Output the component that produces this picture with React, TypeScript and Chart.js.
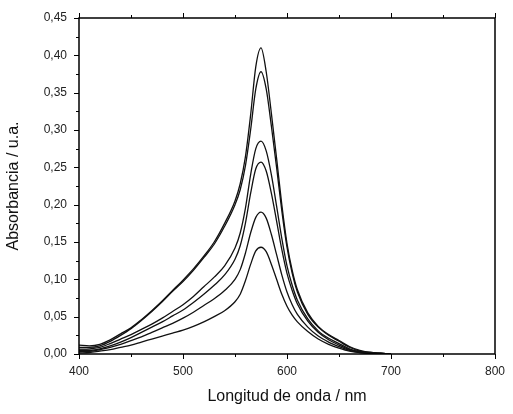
import React, { useEffect, useRef } from "react";
import { Chart, registerables } from "chart.js";

Chart.register(...registerables);

// Wavelength (nm)
const wavelengths = [400, 410, 420, 430, 440, 450, 460, 470, 480, 490, 500, 510, 520, 530, 540, 550, 555, 560, 565, 570, 575, 580, 585, 590, 595, 600, 605, 610, 620, 630, 640, 650, 660, 670, 680, 690, 700];

// Absorbance series (u.a.)
const seriesA = [0.012, 0.011, 0.013, 0.019, 0.027, 0.035, 0.046, 0.058, 0.071, 0.085, 0.099, 0.114, 0.131, 0.150, 0.175, 0.205, 0.228, 0.264, 0.320, 0.385, 0.410, 0.378, 0.322, 0.262, 0.200, 0.148, 0.112, 0.086, 0.055, 0.037, 0.026, 0.018, 0.010, 0.005, 0.002, 0.001, 0.0];
const seriesB = [0.009, 0.009, 0.011, 0.017, 0.025, 0.034, 0.045, 0.057, 0.070, 0.084, 0.097, 0.112, 0.129, 0.147, 0.171, 0.200, 0.220, 0.252, 0.300, 0.355, 0.378, 0.355, 0.305, 0.250, 0.192, 0.143, 0.108, 0.083, 0.053, 0.036, 0.025, 0.017, 0.009, 0.004, 0.002, 0.001, 0.0];
const seriesC = [0.0065, 0.007, 0.009, 0.014, 0.020, 0.026, 0.033, 0.040, 0.048, 0.057, 0.066, 0.077, 0.090, 0.103, 0.118, 0.142, 0.162, 0.195, 0.240, 0.275, 0.285, 0.272, 0.240, 0.198, 0.155, 0.118, 0.092, 0.072, 0.047, 0.031, 0.021, 0.014, 0.007, 0.003, 0.002, 0.001, 0.0];
const seriesD = [0.005, 0.005, 0.007, 0.011, 0.016, 0.022, 0.029, 0.036, 0.043, 0.051, 0.059, 0.069, 0.080, 0.092, 0.106, 0.127, 0.145, 0.175, 0.215, 0.248, 0.257, 0.245, 0.215, 0.178, 0.140, 0.108, 0.085, 0.067, 0.044, 0.029, 0.019, 0.012, 0.006, 0.003, 0.001, 0.0005, 0.0];
const seriesE = [0.003, 0.0035, 0.006, 0.009, 0.013, 0.018, 0.023, 0.029, 0.035, 0.041, 0.048, 0.056, 0.065, 0.074, 0.085, 0.100, 0.113, 0.135, 0.162, 0.183, 0.190, 0.182, 0.160, 0.133, 0.106, 0.083, 0.066, 0.053, 0.036, 0.024, 0.016, 0.010, 0.005, 0.002, 0.001, 0.0, 0.0];
const seriesF = [0.0015, 0.002, 0.004, 0.006, 0.009, 0.012, 0.016, 0.020, 0.024, 0.028, 0.032, 0.037, 0.043, 0.050, 0.058, 0.070, 0.080, 0.098, 0.120, 0.138, 0.143, 0.137, 0.120, 0.100, 0.080, 0.064, 0.052, 0.043, 0.030, 0.020, 0.013, 0.008, 0.004, 0.002, 0.001, 0.0, 0.0];

// Tick labels
const xTicks = [400, 500, 600, 700, 800];
const yTicks = [0, 0.05, 0.1, 0.15, 0.2, 0.25, 0.3, 0.35, 0.4, 0.45];

const allSeries = [seriesA, seriesB, seriesC, seriesD, seriesE, seriesF];

const FONT = "'Liberation Sans', Arial, sans-serif";

const framePlugin = {
  id: "frame",
  afterDatasetsDraw(chart: any) {
    const { ctx, chartArea } = chart;
    const { left, right, top, bottom } = chartArea;
    const xs = chart.scales.x;
    const ys = chart.scales.y;
    ctx.save();
    ctx.strokeStyle = "#000";
    ctx.lineWidth = 1.5;
    ctx.beginPath();
    ctx.rect(left, top, right - left, bottom - top);
    ctx.stroke();
    ctx.lineWidth = 1;
    const line = (x1: number, y1: number, x2: number, y2: number) => {
      ctx.beginPath();
      ctx.moveTo(x1, y1);
      ctx.lineTo(x2, y2);
      ctx.stroke();
    };
    // y ticks (major + minor midpoints)
    yTicks.forEach((v, i) => {
      const py = Math.round(ys.getPixelForValue(v)) + 0.5;
      line(left - 5, py, left, py);
      if (i < yTicks.length - 1) {
        const m = (v + yTicks[i + 1]) / 2;
        const pm = Math.round(ys.getPixelForValue(m)) + 0.5;
        line(left - 3, pm, left, pm);
      }
    });
    // x ticks bottom and top
    xTicks.forEach((v, i) => {
      const px = Math.round(xs.getPixelForValue(v)) + 0.5;
      line(px, bottom, px, bottom + 5);
      line(px, top, px, top - 5);
      if (i < xTicks.length - 1) {
        const m = (v + xTicks[i + 1]) / 2;
        const pm = Math.round(xs.getPixelForValue(m)) + 0.5;
        line(pm, bottom, pm, bottom + 3);
        line(pm, top, pm, top - 3);
      }
    });
    ctx.restore();
  },
};

export default function App() {
  const ref = useRef<HTMLCanvasElement | null>(null);

  useEffect(() => {
    if (!ref.current) return;
    const chart = new Chart(ref.current, {
      type: "line",
      data: {
        datasets: allSeries.map((s, k) => ({
          label: "s" + k,
          data: wavelengths.map((w, i) => ({ x: w, y: s[i] })),
          borderColor: "#111",
          borderWidth: 1.3,
          pointRadius: 0,
          fill: false,
          cubicInterpolationMode: "monotone" as const,
        })),
      },
      options: {
        responsive: false,
        animation: false,
        events: [],
        layout: { padding: { left: 0, top: 18, right: 18, bottom: 0 } },
        plugins: {
          legend: { display: false },
          tooltip: { enabled: false },
        },
        scales: {
          x: {
            type: "linear",
            min: 400,
            max: 800,
            afterBuildTicks: (scale: any) => {
              scale.ticks = xTicks.map((v) => ({ value: v }));
            },
            afterFit: (scale: any) => {
              scale.height = 60;
              scale.paddingLeft = 0;
              scale.paddingRight = 0;
            },
            grid: { display: false, drawTicks: false },
            border: { display: false },
            ticks: {
              padding: 10,
              color: "#222",
              font: { family: FONT, size: 12 },
              callback: (v: any) => String(v),
            },
            title: {
              display: true,
              text: "Longitud de onda / nm",
              color: "#111",
              font: { family: FONT, size: 16 },
              padding: { top: 0, bottom: 8 },
            },
          },
          y: {
            type: "linear",
            min: 0,
            max: 0.45,
            afterBuildTicks: (scale: any) => {
              scale.ticks = yTicks.map((v) => ({ value: v }));
            },
            afterFit: (scale: any) => {
              scale.width = 79;
              scale.paddingTop = 0;
              scale.paddingBottom = 0;
            },
            grid: { display: false, drawTicks: false },
            border: { display: false },
            ticks: {
              padding: 12,
              color: "#222",
              font: { family: FONT, size: 12 },
              callback: (v: any) => Number(v).toFixed(2).replace(".", ","),
            },
            title: {
              display: true,
              text: "Absorbancia / u.a.",
              color: "#111",
              font: { family: FONT, size: 16 },
              padding: { top: 4, bottom: 0 },
            },
          },
        },
      },
      plugins: [framePlugin],
    });
    return () => chart.destroy();
  }, []);

  return (
    <div style={{ position: "absolute", left: 0, top: 0, width: 513, height: 414, background: "#fff" }}>
      <canvas ref={ref} width={513} height={414} />
    </div>
  );
}
